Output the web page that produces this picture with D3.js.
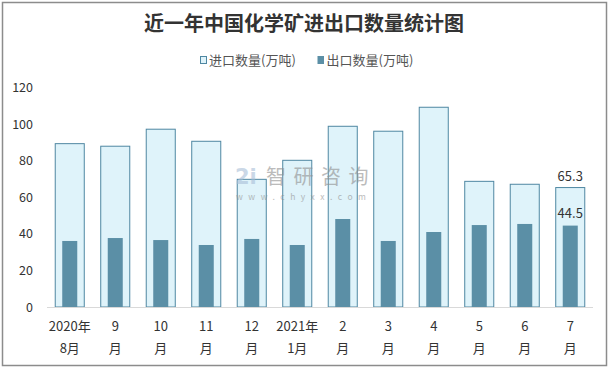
<!DOCTYPE html>
<html><head><meta charset="utf-8">
<script src="https://cdn.jsdelivr.net/npm/d3@7"></script>
<style>body{margin:0;background:#fff}svg{display:block}</style>
</head><body>
<script>
const categories = [["2020年","8月"],["9","月"],["10","月"],["11","月"],["12","月"],["2021年","1月"],["2","月"],["3","月"],["4","月"],["5","月"],["6","月"],["7","月"]];
const importValues = [89.3, 87.9, 97.2, 90.6, 69.8, 80.2, 98.8, 96.1, 109.2, 68.7, 67.1, 65.3];
const exportValues = [36.1, 37.7, 36.6, 33.9, 37.2, 33.9, 48.1, 36.1, 41.0, 44.8, 45.4, 44.5];
const yTicks = [0, 20, 40, 60, 80, 100, 120];
const seriesNames = ["进口数量(万吨)", "出口数量(万吨)"];

const W = 610, H = 369;
const font = "'Noto Sans CJK SC', 'Noto Sans', sans-serif";
const svg = d3.select("body").append("svg").attr("width", W).attr("height", H);
svg.append("rect").attr("x", 2.5).attr("y", 2.5).attr("width", 604).attr("height", 363)
  .attr("fill", "#fff").attr("stroke", "#8c8c8c").attr("stroke-width", 1.5);

const x = d3.scaleBand().domain(d3.range(categories.length)).range([47, 593]).paddingInner(0.34).paddingOuter(0.17);
const y = d3.scaleLinear().domain([0, 120]).range([307, 87.5]);

svg.append("text").attr("x", 304).attr("y", 31).attr("text-anchor", "middle")
  .attr("font-family", font).attr("font-weight", "bold").attr("font-size", 20).attr("fill", "#333")
  .text("近一年中国化学矿进出口数量统计图");

// legend
const lg = svg.append("g").attr("font-family", font).attr("font-size", 13).attr("fill", "#555");
lg.append("rect").attr("x", 200.5).attr("y", 56.5).attr("width", 6).attr("height", 7).attr("fill", "#dff3fa").attr("stroke", "#4f87a2");
lg.append("text").attr("x", 209).attr("y", 65).text(seriesNames[0]);
lg.append("rect").attr("x", 317.5).attr("y", 56).attr("width", 6.5).attr("height", 8).attr("fill", "#5b8fa6");
lg.append("text").attr("x", 326.5).attr("y", 65).text(seriesNames[1]);

// y axis
const yAxis = d3.axisLeft(y).tickValues(yTicks).tickSize(0).tickPadding(0);
const yg = svg.append("g").attr("transform", "translate(33,0)").call(yAxis);
yg.select(".domain").remove();
yg.selectAll("text").attr("font-family", font).attr("font-size", 12.5).attr("fill", "#333").attr("x", 0).attr("text-anchor", "end");

// import bars
svg.append("g").selectAll("rect").data(importValues).join("rect")
  .attr("x", (d, i) => x(i) + 0.5).attr("y", d => y(d)).attr("width", x.bandwidth() - 1).attr("height", d => y(0) - y(d))
  .attr("fill", "#dff3fa").attr("stroke", "#4f87a2").attr("stroke-width", 1);

// export bars
const ew = x.bandwidth() * 0.5;
svg.append("g").selectAll("rect").data(exportValues).join("rect")
  .attr("x", (d, i) => x(i) + (x.bandwidth() - ew) / 2).attr("y", d => y(d)).attr("width", ew).attr("height", d => y(0) - y(d))
  .attr("fill", "#5b8fa6");

// watermark (semi-transparent, on top)
const wm = svg.append("g").attr("opacity", 0.6);
wm.append("text").attr("x", 235).attr("y", 184).attr("font-family", "'DejaVu Sans', sans-serif").attr("font-size", 21).attr("font-weight", "bold").attr("fill", "#a9bfd8").text("2i");
wm.append("text").attr("x", 266).attr("y", 183.5).attr("font-family", font).attr("font-size", 20).attr("fill", "#8f8f8f").attr("letter-spacing", 7.5).text("智研咨询");
wm.append("text").attr("x", 236).attr("y", 200).attr("font-family", font).attr("font-size", 8.5).attr("fill", "#8f8f8f").attr("letter-spacing", 5.5).text("www.chyxx.com");

// baseline
svg.append("line").attr("x1", 47).attr("x2", 593).attr("y1", y(0) + 0.5).attr("y2", y(0) + 0.5).attr("stroke", "#d9d9d9");

// x labels
const xg = svg.append("g").attr("font-family", font).attr("font-size", 13).attr("fill", "#333").attr("text-anchor", "middle");
categories.forEach((c, i) => {
  const cx = x(i) + x.bandwidth() / 2;
  xg.append("text").attr("x", cx).attr("y", 331).text(c[0]);
  xg.append("text").attr("x", cx).attr("y", 353).text(c[1]);
});

// data labels for last
const li = importValues.length - 1;
const lcx = x(li) + x.bandwidth() / 2;
svg.append("text").attr("x", lcx).attr("y", y(importValues[li]) - 7).attr("text-anchor", "middle")
  .attr("font-family", font).attr("font-size", 13).attr("fill", "#333").text(importValues[li].toFixed(1));
svg.append("text").attr("x", lcx).attr("y", y(exportValues[li]) - 8).attr("text-anchor", "middle")
  .attr("font-family", font).attr("font-size", 13).attr("fill", "#333").text(exportValues[li].toFixed(1));
</script>
</body></html>
